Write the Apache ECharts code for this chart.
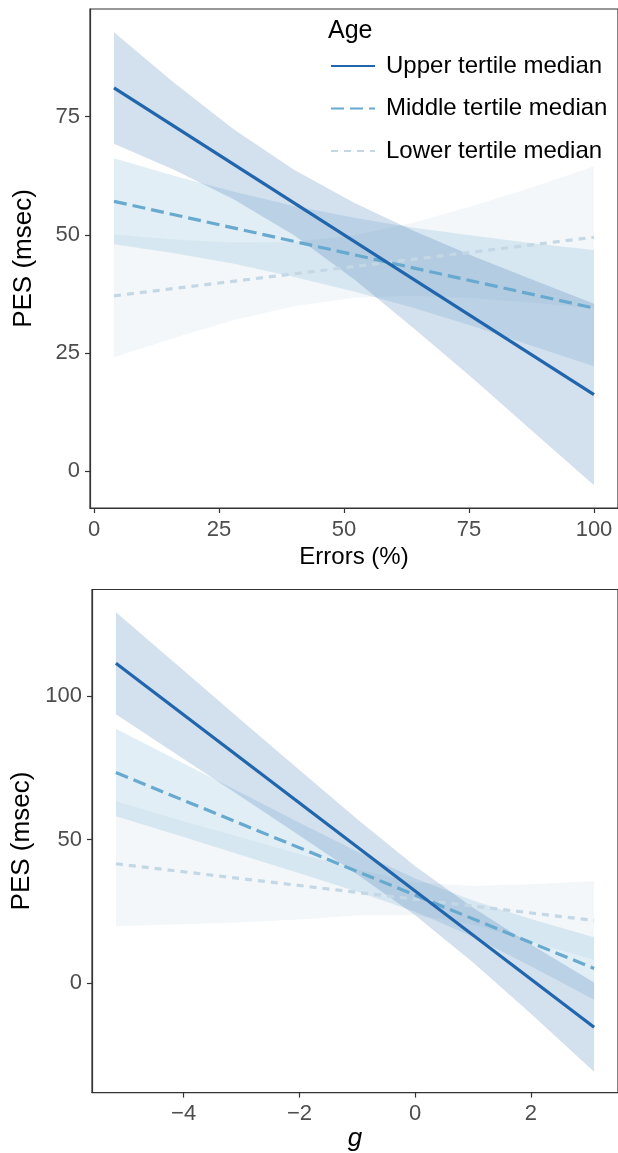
<!DOCTYPE html>
<html><head><meta charset="utf-8">
<script src="https://cdn.jsdelivr.net/npm/echarts@6/dist/echarts.min.js"></script>
<style>html,body{margin:0;padding:0;background:#fff}#c{width:618px;height:1153px}</style>
</head><body><div id="c"></div>
<script>
// ---------- data ----------
const seriesNames = ['Upper tertile median', 'Middle tertile median', 'Lower tertile median'];
const legendTitle = 'Age';

// Panel A: Errors (%)
const errLineX = [4, 100];
const errUpper = [81.1, 16.2];
const errMiddle = [57.1, 34.5];
const errLower = [37.1, 49.5];
const errBandX = [4, 16, 28, 40, 52, 64, 76, 88, 100];
const errUpperLo = [69.3, 63.8, 57.5, 49.9, 40.6, 30.2, 19.4, 8.2, -3.0];
const errUpperHi = [92.9, 82.2, 72.3, 63.8, 56.8, 50.8, 45.4, 40.4, 35.4];
const errMiddleLo = [48.0, 46.1, 43.9, 41.1, 38.0, 34.5, 30.6, 26.4, 22.2];
const errMiddleHi = [66.2, 62.5, 59.1, 56.1, 53.6, 51.5, 49.8, 48.2, 46.8];
const errLowerLo = [24.1, 28.2, 32.0, 34.9, 36.7, 37.1, 36.6, 35.6, 34.5];
const errLowerHi = [50.1, 49.0, 48.4, 48.5, 49.9, 52.6, 56.2, 60.2, 64.5];
const errXTicks = [0, 25, 50, 75, 100];
const errYTicks = [0, 25, 50, 75];

// Panel B: g
const gLineX = [-5.17, 3.09];
const gUpper = [111.3, -15.2];
const gMiddle = [73.3, 5.2];
const gLower = [41.6, 21.9];
const gBandX = [-5.17, -4, -3, -2, -1, 0, 1, 2, 3.09];
const gUpperLo = [93.6, 78.0, 64.8, 51.4, 37.9, 23.7, 7.3, -10.5, -30.7];
const gUpperHi = [129.0, 108.8, 91.4, 74.2, 57.1, 40.7, 26.3, 13.5, 0.3];
const gMiddleLo = [58.1, 50.9, 44.6, 38.3, 31.9, 24.9, 16.2, 6.0, -5.7];
const gMiddleHi = [88.5, 76.5, 66.2, 55.9, 45.9, 36.5, 28.8, 22.4, 16.1];
const gLowerLo = [19.9, 20.6, 21.3, 22.2, 23.6, 23.8, 20.5, 14.5, 8.2];
const gLowerHi = [63.3, 56.4, 50.7, 45.0, 39.7, 35.1, 33.9, 34.5, 35.6];
const gXTicks = [-4, -2, 0, 2];
const gYTicks = [0, 50, 100];

// ---------- style ----------
const FONT = 'Liberation Sans, Arial, Helvetica, sans-serif';
const colors = ['#2166ac', '#67a9cf', '#c4d7e5'];
const dashes = ['solid', [13, 6], [7, 6]];
const AX = '#333333';

function band(idx, xs, lo, hi, color) {
  return {
    type: 'custom', xAxisIndex: idx, yAxisIndex: idx, silent: true, z: 1,
    data: [[xs[0], lo[0]]],
    renderItem: function (params, api) {
      const pts = [];
      for (let i = 0; i < xs.length; i++) pts.push(api.coord([xs[i], hi[i]]));
      for (let i = xs.length - 1; i >= 0; i--) pts.push(api.coord([xs[i], lo[i]]));
      return { type: 'polygon', shape: { points: pts }, style: { fill: color, opacity: 0.2 } };
    }
  };
}
function line(idx, name, xs, ys, k) {
  return {
    type: 'line', name: name, xAxisIndex: idx, yAxisIndex: idx, z: 3,
    symbol: 'none', showSymbol: false, silent: true, animation: false,
    data: xs.map((x, i) => [x, ys[i]]),
    lineStyle: { color: colors[k], width: 3.2, type: dashes[k], cap: 'butt' },
    itemStyle: { color: colors[k], opacity: 0 }
  };
}
function xAxis(idx, min, max, ticks, name, italic) {
  return {
    gridIndex: idx, type: 'value', min: min, max: max,
    name: name, nameLocation: 'middle', nameGap: italic ? 24 : 37,
    nameTextStyle: { fontSize: italic ? 26 : 24, color: '#000', fontFamily: FONT, fontStyle: italic ? 'italic' : 'normal' },
    axisLine: { onZero: false, lineStyle: { color: AX, width: 1.2 } },
    axisTick: { customValues: ticks, length: 5, lineStyle: { color: AX, width: 1.2 } },
    axisLabel: { customValues: ticks, fontSize: 22, color: '#4d4d4d', margin: 10.5, fontFamily: FONT,
      formatter: v => (v < 0 ? '\u2212' + Math.abs(v) : String(v)) },
    splitLine: { show: false }
  };
}
function yAxis(idx, min, max, ticks) {
  return {
    gridIndex: idx, type: 'value', min: min, max: max,
    name: 'PES (msec)', nameLocation: 'middle', nameGap: 53, nameRotate: 90,
    nameTextStyle: { fontSize: 26, color: '#000', fontFamily: FONT },
    axisLine: { onZero: false, lineStyle: { color: AX, width: 1.2 } },
    axisTick: { customValues: ticks, length: 5, lineStyle: { color: AX, width: 1.2 } },
    axisLabel: { customValues: ticks, fontSize: 22, color: '#4d4d4d', margin: 10, fontFamily: FONT },
    splitLine: { show: false }
  };
}

const chart = echarts.init(document.getElementById('c'), null, { renderer: 'canvas' });
chart.setOption({
  animation: false,
  backgroundColor: '#fff',
  title: { text: legendTitle, left: 323, top: 14, textStyle: { fontSize: 25, fontWeight: 'normal', color: '#000', fontFamily: FONT } },
  legend: {
    data: seriesNames, orient: 'vertical', left: 325, top: 49,
    itemWidth: 44, itemHeight: 14, itemGap: 18.5, selectedMode: false,
    itemStyle: { opacity: 0 },
    textStyle: { fontSize: 24, color: '#000', fontFamily: FONT, lineHeight: 22, padding: [0, 0, 0, 6] }
  },
  grid: [
    { left: 90, top: 9, width: 530, height: 499, show: true, borderColor: AX, borderWidth: 1.2, backgroundColor: 'transparent', containLabel: false },
    { left: 92, top: 589.5, width: 528.5, height: 507.3, show: true, borderColor: AX, borderWidth: 1.2, backgroundColor: 'transparent', containLabel: false }
  ],
  xAxis: [
    xAxis(0, -0.8, 104.8, errXTicks, 'Errors (%)', false),
    xAxis(1, -5.583, 3.503, gXTicks, 'g', true)
  ],
  yAxis: [
    yAxis(0, -7.8, 97.8, errYTicks),
    yAxis(1, -37.95, 136.95, gYTicks)
  ],
  series: [
    band(0, errBandX, errLowerLo, errLowerHi, colors[2]),
    band(0, errBandX, errMiddleLo, errMiddleHi, colors[1]),
    band(0, errBandX, errUpperLo, errUpperHi, colors[0]),
    line(0, seriesNames[2], errLineX, errLower, 2),
    line(0, seriesNames[1], errLineX, errMiddle, 1),
    line(0, seriesNames[0], errLineX, errUpper, 0),
    band(1, gBandX, gLowerLo, gLowerHi, colors[2]),
    band(1, gBandX, gMiddleLo, gMiddleHi, colors[1]),
    band(1, gBandX, gUpperLo, gUpperHi, colors[0]),
    line(1, seriesNames[2], gLineX, gLower, 2),
    line(1, seriesNames[1], gLineX, gMiddle, 1),
    line(1, seriesNames[0], gLineX, gUpper, 0)
  ]
});
</script></body></html>
